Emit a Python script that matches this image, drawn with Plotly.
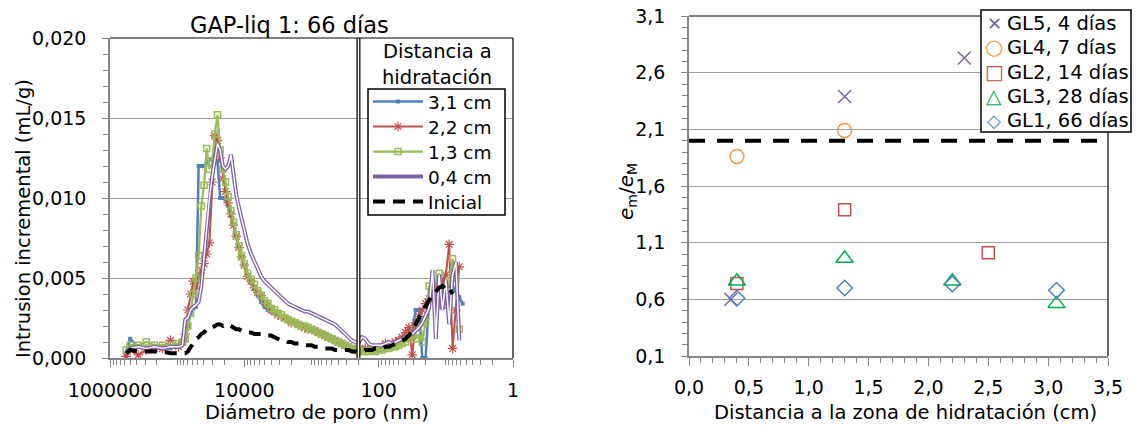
import plotly.graph_objects as go

# ---------------- Left chart data: incremental intrusion vs pore diameter ----------------
diam_nm = [
    575000, 501000, 380000, 288000, 219000, 166000, 126000, 95500, 83200,
    75900, 69200, 63100, 57500, 52500, 47900, 43700, 39800, 36300, 33100, 30200, 27500,
    25100, 22900, 20900, 19100, 17400, 15800, 14500, 13200, 12000, 11000, 10000,
    8910, 7940, 7080, 6310, 5620, 5010, 4470, 3980, 3550, 3160, 2820, 2510, 2240, 2000,
    1780, 1580, 1410, 1260, 1120, 1000, 891, 794, 708, 631, 562, 501, 447, 398, 355, 316,
    282, 251, 224, 200, 178,
    158, 141, 126, 112, 100, 89.1, 79.4, 70.8, 63.1, 56.2, 50.1, 44.7, 39.8, 35.5, 31.6,
    28.2, 25.1, 22.4, 20.0, 17.8, 15.8, 14.1, 12.6, 11.2, 10.0, 8.91, 7.94, 7.08, 6.31, 5.62,
]

v_31cm = [
    0.0003, 0.0012, 0.0007, 0.0006, 0.0006, 0.0006, 0.0006, 0.0007, 0.0010,
    0.0012, 0.0020, 0.0028, 0.0031, 0.0032, 0.0120, 0.0120, 0.0120, 0.0122, 0.0124, 0.0124, 0.0124,
    0.0123, 0.0100, 0.0100, 0.0099, 0.0095, 0.0089, 0.0083, 0.0076, 0.0069, 0.0063, 0.0058,
    0.0052, 0.0047, 0.0043, 0.0039, 0.0035, 0.0032, 0.0030, 0.0029, 0.0028, 0.0027, 0.0026, 0.0025, 0.0024, 0.0023,
    0.0022, 0.0021, 0.0020, 0.0019, 0.0019, 0.0018, 0.0017, 0.0016, 0.0015, 0.0014, 0.0013, 0.0012, 0.0011, 0.0010, 0.0009, 0.0008,
    0.0007, 0.0006, 0.0006, 0.0005, 0.0005,
    0.0005, 0.0005, 0.0005, 0.0005, 0.0005, 0.0006, 0.0006, 0.0007, 0.0007, 0.0008, 0.0009, 0.0010, 0.0011, 0.0013, 0.0016,
    0.0030, 0.0030, 0.0000, 0.0000, 0.0035, 0.0040, 0.0044, 0.0046, 0.0045, 0.0046, 0.0045, 0.0044, 0.0042, 0.0038, 0.0034,
]

v_22cm = [
    0.0001, 0.0005, 0.0002, 0.0005, 0.0006, 0.0006, 0.0011, 0.0007, 0.0010,
    0.0015, 0.0030, 0.0040, 0.0048, 0.0045, 0.0050, 0.0055, 0.0059, 0.0065, 0.0072, 0.0110, 0.0139,
    0.0136, 0.0125, 0.0112, 0.0104, 0.0097, 0.0090, 0.0083, 0.0076, 0.0069, 0.0063, 0.0058,
    0.0051, 0.0048, 0.0044, 0.0041, 0.0039, 0.0035, 0.0033, 0.0030, 0.0029, 0.0027, 0.0026, 0.0025, 0.0024, 0.0022,
    0.0022, 0.0021, 0.0020, 0.0019, 0.0018, 0.0018, 0.0017, 0.0016, 0.0015, 0.0014, 0.0013, 0.0012, 0.0011, 0.0010, 0.0009, 0.0008,
    0.0007, 0.0006, 0.0005, 0.0005, 0.0005,
    0.0006, 0.0005, 0.0006, 0.0005, 0.0006, 0.0007, 0.0009, 0.0008, 0.0009, 0.0010, 0.0011, 0.0013, 0.0016, 0.0019, 0.0002,
    0.0022, 0.0026, 0.0030, 0.0034, 0.0037, 0.0042, 0.0046, 0.0044, 0.0047, 0.0052, 0.0071, 0.0006, 0.0030, 0.0057, None,
]

v_13cm = [
    0.0005, 0.0008, 0.0008, 0.0010, 0.0008, 0.0008, 0.0008, 0.0009, 0.0010,
    0.0012, 0.0020, 0.0028, 0.0040, 0.0050, 0.0064, 0.0095, 0.0108, 0.0131, 0.0118, 0.0122, 0.0140,
    0.0152, 0.0130, 0.0118, 0.0110, 0.0101, 0.0092, 0.0085, 0.0077, 0.0070, 0.0064, 0.0059,
    0.0053, 0.0049, 0.0046, 0.0042, 0.0039, 0.0036, 0.0034, 0.0031, 0.0030, 0.0028, 0.0027, 0.0025, 0.0024, 0.0023,
    0.0022, 0.0021, 0.0020, 0.0020, 0.0019, 0.0018, 0.0017, 0.0016, 0.0015, 0.0014, 0.0013, 0.0012, 0.0011, 0.0010, 0.0009, 0.0008,
    0.0007, 0.0006, 0.0005, 0.0005, 0.0004,
    0.0004, 0.0004, 0.0005, 0.0004, 0.0005, 0.0005, 0.0006, 0.0006, 0.0007, 0.0007, 0.0008, 0.0009, 0.0010, 0.0012, 0.0014,
    0.0012, 0.0015, 0.0010, 0.0022, 0.0045, 0.0040, 0.0048, 0.0053, 0.0033, 0.0040, 0.0048, 0.0062, 0.0050, 0.0018, None,
]

v_04cm = [
    0.0004, 0.0006, 0.0007, 0.0006, 0.0007, 0.0006, 0.0007, 0.0007, 0.0008,
    0.0024, 0.0025, 0.0030, 0.0032, 0.0033, 0.0035, 0.0045, 0.0063, 0.0082, 0.0100, 0.0113, 0.0124,
    0.0134, 0.0130, 0.0120, 0.0118, 0.0120, 0.0127, 0.0114, 0.0102, 0.0094, 0.0087, 0.0080,
    0.0071, 0.0065, 0.0060, 0.0055, 0.0051, 0.0048, 0.0046, 0.0044, 0.0042, 0.0040, 0.0038, 0.0036, 0.0034, 0.0033,
    0.0032, 0.0031, 0.0030, 0.0029, 0.0029, 0.0028, 0.0027, 0.0026, 0.0025, 0.0024, 0.0023, 0.0022, 0.0021, 0.0019, 0.0017, 0.0015,
    0.0013, 0.0011, 0.0010, 0.0009, 0.0013,
    0.0012, 0.0009, 0.0008, 0.0008, 0.0008, 0.0008, 0.0009, 0.0010, 0.0009, 0.0010, 0.0011, 0.0012, 0.0013, 0.0014, 0.0015,
    0.0017, 0.0019, 0.0022, 0.0026, 0.0031, 0.0055, 0.0012, 0.0052, 0.0030, 0.0049, 0.0021, 0.0052, 0.0060, 0.0011, None,
]

v_inicial = [
    0.0003, 0.0005, 0.0004, 0.0004, 0.0004, 0.0004, 0.0003, 0.0003, 0.0003,
    0.0003, 0.0004, 0.0007, 0.0010, 0.0012, 0.0013, 0.0015, 0.0016, 0.0018, 0.0019, 0.0019, 0.0020,
    0.0021, 0.0021, 0.0020, 0.0021, 0.0021, 0.0020, 0.0019, 0.0018, 0.0018, 0.0017, 0.0017,
    0.0016, 0.0016, 0.0015, 0.0015, 0.0015, 0.0014, 0.0014, 0.0014, 0.0013, 0.0012, 0.0011, 0.0011, 0.0010, 0.0010,
    0.0009, 0.0009, 0.0009, 0.0008, 0.0008, 0.0008, 0.0007, 0.0007, 0.0007, 0.0006, 0.0006, 0.0006, 0.0005, 0.0005, 0.0005, 0.0005,
    0.0005, 0.0004, 0.0004, 0.0004, 0.0004,
    0.0005, 0.0005, 0.0005, 0.0006, 0.0006, 0.0006, 0.0007, 0.0007, 0.0008, 0.0009, 0.0010, 0.0011, 0.0012, 0.0014, 0.0017,
    0.0021, 0.0025, 0.0029, 0.0032, 0.0036, 0.0039, 0.0042, 0.0044, 0.0045, 0.0043, 0.0044, 0.0040, None, None, None,
]

boundary_nm = 200
left_y_range = [0, 0.020]
left_xtick_vals = [1e6, 1e4, 1e2, 1]
left_xtick_text = ["1000000", "10000", "100", "1"]

# ---------------- Right chart data: e_m/e_M vs distance ----------------
series_names = ["GL5, 4 días", "GL4, 7 días", "GL2, 14 días", "GL3, 28 días", "GL1, 66 días"]
gl5_x, gl5_y = [0.35, 1.30, 2.30], [0.60, 2.39, 2.73]
gl4_x, gl4_y = [0.40, 1.30], [1.86, 2.09]
gl2_x, gl2_y = [0.40, 1.30, 2.50], [0.74, 1.39, 1.01]
gl3_x, gl3_y = [0.40, 1.30, 2.20, 3.07], [0.76, 0.96, 0.76, 0.56]
gl1_x, gl1_y = [0.40, 1.30, 2.20, 3.07], [0.61, 0.70, 0.735, 0.68]
ratio_ref = 2.0

W, H = 1137, 426
FONT = "DejaVu Sans"
GRID = "#A0A0A0"
AXIS = "#868686"

def fx(p):
    return p / W

def fy(p):
    return 1 - p / H

fig = go.Figure()

# left traces (each in its own single-entry legend so the rows are spaced like the reference)
fig.add_trace(go.Scatter(x=diam_nm, y=v_31cm, name="3,1 cm", mode="lines+markers",
                         line=dict(color="#4F81BD", width=2.5),
                         marker=dict(symbol="square", size=4, color="#4F81BD"),
                         xaxis="x", yaxis="y", legend="legend"))
fig.add_trace(go.Scatter(x=diam_nm, y=v_22cm, name="2,2 cm", mode="lines+markers",
                         line=dict(color="#C0504D", width=2),
                         marker=dict(symbol="asterisk-open", size=8, color="#C0504D",
                                     line=dict(color="#C0504D", width=1.2)),
                         xaxis="x", yaxis="y", legend="legend2"))
fig.add_trace(go.Scatter(x=diam_nm, y=v_13cm, name="1,3 cm", mode="lines+markers",
                         line=dict(color="#9BBB59", width=2.2),
                         marker=dict(symbol="square-open", size=6, color="#9BBB59",
                                     line=dict(color="#9BBB59", width=1.5)),
                         xaxis="x", yaxis="y", legend="legend3"))
fig.add_trace(go.Scatter(x=diam_nm, y=v_04cm, name="0,4 cm", mode="lines",
                         line=dict(color="#8064A2", width=4),
                         xaxis="x", yaxis="y", legend="legend4"))
fig.add_trace(go.Scatter(x=diam_nm, y=v_04cm, mode="lines", showlegend=False, hoverinfo="skip",
                         line=dict(color="white", width=1.4),
                         xaxis="x", yaxis="y"))
fig.add_trace(go.Scatter(x=[boundary_nm, boundary_nm], y=left_y_range, mode="lines", showlegend=False,
                         hoverinfo="skip", line=dict(color="black", width=4), xaxis="x", yaxis="y"))
fig.add_trace(go.Scatter(x=[boundary_nm, boundary_nm], y=left_y_range, mode="lines", showlegend=False,
                         hoverinfo="skip", line=dict(color="white", width=1.5), xaxis="x", yaxis="y"))
fig.add_trace(go.Scatter(x=diam_nm, y=v_inicial, name="Inicial", mode="lines",
                         line=dict(color="black", width=4, dash="12px,8px"),
                         xaxis="x", yaxis="y", legend="legend5"))

# right traces (legend drawn as text below)
right_series = [
    (gl5_x, gl5_y, "x-thin-open", 13, "#7E649E", "✕", 18),
    (gl4_x, gl4_y, "circle-open", 14, "#F79646", "○", 21),
    (gl2_x, gl2_y, "square-open", 12, "#C0504D", "□", 20),
    (gl3_x, gl3_y, "triangle-up-open", 15, "#00B050", "△", 20),
    (gl1_x, gl1_y, "diamond-open", 12, "#4F81BD", "◇", 18),
]
for (sx, sy, sym, size, col, glyph, gsize), name in zip(right_series, series_names):
    fig.add_trace(go.Scatter(x=sx, y=sy, name=name, mode="markers", showlegend=False,
                             marker=dict(symbol=sym, size=size, color=col, line=dict(color=col, width=1.5)),
                             xaxis="x2", yaxis="y2"))

tickfont = dict(family=FONT, size=19, color="black")
minor_log = [m * 10 ** e for e in range(0, 6) for m in range(2, 10)] + [1e5, 1e3, 1e1]


def entry_legend(xpx, ypx, size, itemwidth):
    return dict(x=fx(xpx), y=fy(ypx), xanchor="left", yanchor="middle",
                bgcolor="rgba(255,255,255,0)", borderwidth=0,
                font=dict(family=FONT, size=size, color="black"),
                itemwidth=itemwidth, tracegroupgap=0)


left_rows = [102, 127, 152, 177, 202]
right_rows = [23, 47, 72, 96, 120]
legends = {}
for i, ypx in enumerate(left_rows):
    key = "legend" if i == 0 else "legend%d" % (i + 1)
    legends[key] = entry_legend(368, ypx, 18.5, 50)

fig.update_layout(
    width=W, height=H,
    margin=dict(l=0, r=0, t=0, b=0, autoexpand=False),
    paper_bgcolor="white", plot_bgcolor="white",
    separators=",.",
    font=dict(family=FONT, size=19, color="black"),
    xaxis=dict(domain=[fx(110), fx(513)], type="log", range=[6, 0], automargin=False,
               tickmode="array", tickvals=left_xtick_vals, ticktext=left_xtick_text,
               ticks="outside", ticklen=7, tickcolor=AXIS, ticklabelstandoff=7,
               showgrid=False, zeroline=False, showline=True, linecolor=AXIS, linewidth=1.5,
               tickfont=tickfont, anchor="y",
               minor=dict(tickmode="array", tickvals=minor_log,
                          ticks="outside", ticklen=5, tickcolor=AXIS, showgrid=False)),
    yaxis=dict(domain=[fy(358), fy(38)], range=left_y_range, dtick=0.005, tick0=0, automargin=False,
               tickformat=".3f", ticks="outside", ticklen=6, tickcolor=AXIS, ticklabelstandoff=12,
               showgrid=True, gridcolor=GRID, gridwidth=1.3, zeroline=False,
               showline=True, linecolor=AXIS, linewidth=1.5, tickfont=tickfont, anchor="x",
               minor=dict(dtick=0.001, tick0=0, ticks="outside", ticklen=5, tickcolor=AXIS, showgrid=False)),
    xaxis2=dict(domain=[fx(689), fx(1108)], range=[0, 3.5], dtick=0.5, tick0=0, automargin=False,
                tickformat=".1f", ticks="outside", ticklen=8, tickcolor=AXIS, ticklabelstandoff=5,
                showgrid=False, zeroline=False, showline=True, linecolor=AXIS, linewidth=1.5,
                tickfont=tickfont, anchor="y2",
                minor=dict(dtick=0.1, tick0=0, ticks="outside", ticklen=5, tickcolor=AXIS, showgrid=False)),
    yaxis2=dict(domain=[fy(356), fy(16)], range=[0.1, 3.1], dtick=0.5, tick0=0.1, automargin=False,
                tickformat=".1f", ticks="outside", ticklen=6, tickcolor=AXIS, ticklabelstandoff=12,
                showgrid=True, gridcolor=GRID, gridwidth=1.3, zeroline=False,
                showline=True, linecolor=AXIS, linewidth=1.5, tickfont=tickfont, anchor="x2",
                minor=dict(dtick=0.1, tick0=0.1, ticks="outside", ticklen=5, tickcolor=AXIS, showgrid=False)),
    showlegend=True,
    **legends,
)

# plot frames (top and right edges)
for xr, yr in (("x domain", "y domain"), ("x2 domain", "y2 domain")):
    fig.add_shape(type="line", xref=xr, yref=yr, x0=0, x1=1, y0=1, y1=1, line=dict(color="black", width=1.2))
    fig.add_shape(type="line", xref=xr, yref=yr, x0=1, x1=1, y0=0, y1=1, line=dict(color="black", width=1.2))

# reference line on right chart
fig.add_shape(type="line", xref="x2 domain", yref="y2", x0=0, x1=1, y0=ratio_ref, y1=ratio_ref,
              line=dict(color="black", width=4, dash="16px,12px"))

# legend boxes
fig.add_shape(type="rect", xref="paper", yref="paper", x0=fx(368), x1=fx(505), y0=fy(215), y1=fy(89),
              fillcolor="white", line=dict(color="black", width=1.5), layer="above")
fig.add_shape(type="rect", xref="paper", yref="paper", x0=fx(981), x1=fx(1131), y0=fy(132), y1=fy(10),
              fillcolor="white", line=dict(color="black", width=1.5), layer="above")

ann = [
    dict(text="GAP-liq 1: 66 días", x=fx(289), y=fy(25), size=22.5, angle=0),
    dict(text="Distancia a", x=fx(437), y=fy(52), size=19.5, angle=0),
    dict(text="hidratación", x=fx(437), y=fy(78), size=19.5, angle=0),
    dict(text="Intrusion incremental (mL/g)", x=fx(23), y=fy(219), size=19.5, angle=-90),
    dict(text="Diámetro de poro (nm)", x=fx(317), y=fy(412), size=19.5, angle=0),
    dict(text="<i>e</i><sub>m</sub>/<i>e</i><sub>M</sub>", x=fx(627), y=fy(192), size=20, angle=-90),
    dict(text="Distancia a la zona de hidratación (cm)", x=fx(905), y=fy(412), size=19.5, angle=0),
]
for a in ann:
    fig.add_annotation(text=a["text"], x=a["x"], y=a["y"], xref="paper", yref="paper",
                       xanchor="center", yanchor="middle", showarrow=False, textangle=a["angle"],
                       font=dict(family=FONT, size=a["size"], color="black"))

# right legend: symbol glyph + label per row
for (sx, sy, sym, size, col, glyph, gsize), name, ypx in zip(right_series, series_names, right_rows):
    fig.add_annotation(text=glyph, x=fx(994), y=fy(ypx), xref="paper", yref="paper",
                       xanchor="center", yanchor="middle", showarrow=False,
                       font=dict(family=FONT, size=gsize, color=col))
    fig.add_annotation(text=name, x=fx(1005), y=fy(ypx), xref="paper", yref="paper",
                       xanchor="left", yanchor="middle", showarrow=False,
                       font=dict(family=FONT, size=19.5, color="black"))

fig.write_html("out.html")
